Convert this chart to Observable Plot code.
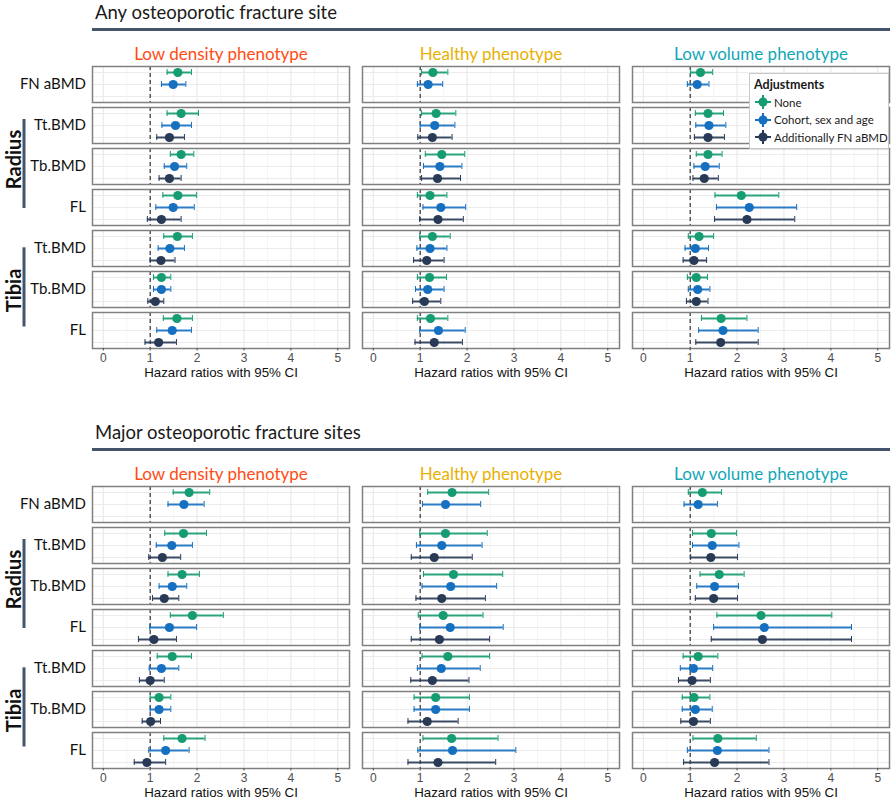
<!DOCTYPE html>
<html>
<head>
<meta charset="utf-8">
<script src="https://cdn.jsdelivr.net/npm/d3@7"></script>
<script src="https://cdn.jsdelivr.net/npm/@observablehq/plot@0.6"></script>
<style>
html, body { margin: 0; padding: 0; background: #fff; overflow: hidden; }
#wrap { position: relative; width: 895px; height: 801px; font-family: Lato, "Open Sans", sans-serif; }
.section { position: absolute; left: 0; width: 895px; height: 420px; }
.stitle { position: absolute; left: 95px; top: 0px; font-size: 18.5px; line-height: 24px; color: #1a1a1a; white-space: nowrap; }
.rule { position: absolute; left: 92px; width: 798px; top: 28px; height: 3px; background: #44546a; }
.section svg { position: absolute; left: 0; top: 35px; overflow: visible; }
.legend { position: absolute; left: 749px; top: 73px; width: 140px; height: 76px; background: #fff; border: 1px solid #c8c8c8; box-sizing: border-box; font-size: 11.5px; color: #1a1a1a; }
.legend .lt { position: absolute; left: 4px; top: 3px; font-weight: bold; font-size: 12.5px; }
.legend .li { position: absolute; left: 4px; height: 16px; white-space: nowrap; display: flex; align-items: center; }
.legend .li svg { position: static; margin-right: 2px; }
</style>
</head>
<body>
<div id="wrap"></div>
<script>
// ---------- categories and labels ----------
const sectionTitles = ["Any osteoporotic fracture site", "Major osteoporotic fracture sites"];
const phenotypes = ["Low density phenotype", "Healthy phenotype", "Low volume phenotype"];
const phenotypeColors = ["#ff4b14", "#e8b000", "#12a6b6"];
const rowKeys = ["FN", "R_Tt", "R_Tb", "R_FL", "T_Tt", "T_Tb", "T_FL"];
const rowLabels = ["FN aBMD", "Tt.BMD", "Tb.BMD", "FL", "Tt.BMD", "Tb.BMD", "FL"];
const groupLabels = ["Radius", "Tibia"];
const adjustments = ["None", "Cohort, sex and age", "Additionally FN aBMD"];
const adjustmentColors = ["#169c72", "#1670c0", "#293a56"];
const legendTitle = "Adjustments";
const xTicks = [0, 1, 2, 3, 4, 5];
const xMinorTicks = [0.5, 1.5, 2.5, 3.5, 4.5];
const xDomain = [-0.23, 5.25];
const axisTitle = "Hazard ratios with 95% CI";

// ---------- values: order = rows (FN, Radius Tt/Tb/FL, Tibia Tt/Tb/FL) x adjustments ----------
// Any osteoporotic fracture site
const anyLowDensityHR = [1.59,1.49,null, 1.66,1.54,1.41, 1.66,1.52,1.41, 1.59,1.49,1.24, 1.58,1.42,1.23, 1.24,1.24,1.11, 1.57,1.47,1.18];
const anyLowDensityLo = [1.36,1.24,null, 1.36,1.25,1.14, 1.43,1.30,1.19, 1.27,1.12,0.94, 1.29,1.17,1.00, 1.07,1.07,0.95, 1.28,1.14,0.89];
const anyLowDensityHi = [1.88,1.76,null, 2.03,1.88,1.73, 1.93,1.78,1.66, 1.99,1.94,1.66, 1.90,1.73,1.53, 1.44,1.44,1.29, 1.90,1.88,1.56];
const anyHealthyHR = [1.27,1.17,null, 1.34,1.31,1.26, 1.46,1.42,1.37, 1.21,1.44,1.38, 1.26,1.21,1.14, 1.20,1.16,1.09, 1.22,1.39,1.30];
const anyHealthyLo = [1.03,0.94,null, 1.03,1.00,0.95, 1.11,1.07,1.03, 0.94,1.06,0.99, 0.99,0.93,0.86, 0.94,0.90,0.84, 0.94,0.99,0.89];
const anyHealthyHi = [1.59,1.48,null, 1.76,1.74,1.68, 1.95,1.89,1.86, 1.57,1.97,1.92, 1.64,1.57,1.51, 1.56,1.51,1.44, 1.59,1.96,1.90];
const anyLowVolumeHR = [1.22,1.15,null, 1.38,1.40,1.38, 1.38,1.32,1.30, 2.09,2.26,2.21, 1.19,1.11,1.08, 1.13,1.16,1.13, 1.66,1.70,1.65];
const anyLowVolumeLo = [1.01,0.94,null, 1.11,1.12,1.09, 1.13,1.08,1.06, 1.53,1.56,1.52, 0.96,0.89,0.85, 0.94,0.96,0.92, 1.24,1.18,1.12];
const anyLowVolumeHi = [1.48,1.40,null, 1.71,1.76,1.73, 1.68,1.62,1.60, 2.89,3.27,3.23, 1.50,1.39,1.35, 1.37,1.42,1.38, 2.21,2.45,2.45];
// Major osteoporotic fracture sites
const majorLowDensityHR = [1.83,1.72,null, 1.71,1.46,1.26, 1.68,1.47,1.30, 1.90,1.41,1.08, 1.47,1.24,1.00, 1.19,1.19,1.01, 1.68,1.33,0.93];
const majorLowDensityLo = [1.49,1.38,null, 1.31,1.13,0.97, 1.38,1.19,1.05, 1.43,0.99,0.75, 1.15,0.98,0.77, 1.00,1.00,0.83, 1.29,0.97,0.66];
const majorLowDensityHi = [2.27,2.15,null, 2.20,1.90,1.65, 2.05,1.78,1.61, 2.56,1.99,1.56, 1.88,1.61,1.30, 1.44,1.44,1.22, 2.17,1.83,1.33];
const majorHealthyHR = [1.68,1.54,null, 1.54,1.46,1.30, 1.71,1.65,1.46, 1.49,1.64,1.41, 1.59,1.45,1.26, 1.33,1.33,1.15, 1.67,1.69,1.38];
const majorHealthyLo = [1.16,1.05,null, 0.99,0.92,0.81, 1.07,1.04,0.91, 0.96,0.99,0.81, 1.04,0.94,0.80, 0.87,0.87,0.74, 1.06,0.95,0.74];
const majorHealthyHi = [2.46,2.29,null, 2.43,2.32,2.11, 2.76,2.63,2.39, 2.34,2.77,2.48, 2.48,2.28,2.04, 2.05,2.05,1.81, 2.66,3.04,2.61];
const majorLowVolumeHR = [1.26,1.17,null, 1.45,1.47,1.44, 1.62,1.52,1.50, 2.51,2.58,2.54, 1.17,1.07,1.04, 1.08,1.11,1.07, 1.59,1.58,1.52];
const majorLowVolumeLo = [0.96,0.87,null, 1.05,1.05,1.01, 1.21,1.14,1.11, 1.57,1.50,1.45, 0.85,0.79,0.75, 0.83,0.83,0.80, 1.06,0.94,0.86];
const majorLowVolumeHi = [1.67,1.58,null, 1.99,2.04,2.01, 2.15,2.03,2.01, 4.02,4.44,4.44, 1.59,1.48,1.43, 1.42,1.47,1.43, 2.41,2.68,2.68];

function buildRows(sets) {
  const out = [];
  sets.forEach(([hr, lo, hi], p) => {
    hr.forEach((v, i) => {
      if (v == null) return;
      out.push({pheno: phenotypes[p], row: rowKeys[Math.floor(i / 3)], adj: adjustments[i % 3], hr: v, lo: lo[i], hi: hi[i]});
    });
  });
  return out;
}

const sections = [
  buildRows([[anyLowDensityHR, anyLowDensityLo, anyLowDensityHi], [anyHealthyHR, anyHealthyLo, anyHealthyHi], [anyLowVolumeHR, anyLowVolumeLo, anyLowVolumeHi]]),
  buildRows([[majorLowDensityHR, majorLowDensityLo, majorLowDensityHi], [majorHealthyHR, majorHealthyLo, majorHealthyHi], [majorLowVolumeHR, majorLowVolumeLo, majorLowVolumeHi]])
];

const colorOf = d => adjustmentColors[adjustments.indexOf(d.adj)];

function chart(data) {
  return Plot.plot({
    width: 895,
    height: 385,
    marginLeft: 91.5,
    marginRight: 5.5,
    marginTop: 29,
    marginBottom: 70,
    style: {fontFamily: "Lato, 'Open Sans', sans-serif", background: "transparent", overflow: "visible"},
    x: {domain: xDomain, axis: null},
    y: {type: "point", domain: adjustments, padding: 0.5, axis: null},
    fx: {domain: phenotypes, paddingInner: 0.05, paddingOuter: 0, axis: null},
    fy: {domain: rowKeys, paddingInner: 0.114, paddingOuter: 0, axis: null},
    marks: [
      Plot.frame({fill: "white"}),
      Plot.ruleX(xMinorTicks, {stroke: "#f1f1f1", strokeWidth: 0.8}),
      Plot.ruleX(xTicks, {stroke: "#e6e6e6", strokeWidth: 1}),
      Plot.ruleY(adjustments, {stroke: "#ececec", strokeWidth: 1}),
      Plot.ruleX([1], {stroke: "#222", strokeDasharray: "4,3", strokeWidth: 1.1}),
      Plot.ruleY(data, {fx: "pheno", fy: "row", y: "adj", x1: "lo", x2: "hi", stroke: colorOf, strokeWidth: 2, strokeOpacity: 0.9}),
      Plot.ruleX(data, {fx: "pheno", fy: "row", y1: "adj", y2: "adj", x: "lo", stroke: colorOf, strokeWidth: 1, insetTop: -3, insetBottom: -3}),
      Plot.ruleX(data, {fx: "pheno", fy: "row", y1: "adj", y2: "adj", x: "hi", stroke: colorOf, strokeWidth: 1, insetTop: -3, insetBottom: -3}),
      Plot.dot(data, {fx: "pheno", fy: "row", y: "adj", x: "hr", fill: colorOf, r: 4.6}),
      Plot.frame({stroke: "#808080", strokeWidth: 1.5}),
      Plot.axisX(xTicks, {tickSize: 2.5, tickPadding: 2, fontSize: 12, color: "#4d4d4d", label: null, fontFamily: "'Liberation Sans', Arial, sans-serif"}),
      Plot.axisFy({anchor: "left", tickSize: 0, tickPadding: 6.5, fontSize: 15, color: "#111", label: null,
        tickFormat: k => rowLabels[rowKeys.indexOf(k)]}),
      Plot.text(phenotypes, {fx: d => d, fy: () => rowKeys[0], text: d => d,
        fill: (d, i) => phenotypeColors[i], frameAnchor: "top", lineAnchor: "middle", dy: -12, fontSize: 17}),
      Plot.text(phenotypes, {fx: d => d, fy: () => rowKeys[rowKeys.length - 1], text: () => axisTitle,
        frameAnchor: "bottom", lineAnchor: "middle", dy: 24, fontSize: 13.3, fill: "#111",
        fontFamily: "'Liberation Sans', Arial, sans-serif"}),
      // group labels
      Plot.text([groupLabels[0]], {fx: () => phenotypes[0], fy: () => "R_Tb", text: d => d, frameAnchor: "left",
        textAnchor: "middle", lineAnchor: "middle", rotate: -90, dx: -78, dy: -7, fontSize: 20, fontWeight: "bold", fill: "#111"}),
      Plot.text([groupLabels[1]], {fx: () => phenotypes[0], fy: () => "T_Tb", text: d => d, frameAnchor: "left",
        textAnchor: "middle", lineAnchor: "middle", rotate: -90, dx: -78, dy: 1, fontSize: 20, fontWeight: "bold", fill: "#111"}),
      Plot.ruleX([xDomain[0]], {fx: () => phenotypes[0], fy: () => "R_Tb", dx: -68.5, insetTop: -29, insetBottom: -24, stroke: "#44546a", strokeWidth: 3}),
      Plot.ruleX([xDomain[0]], {fx: () => phenotypes[0], fy: () => "T_Tb", dx: -68.5, insetTop: -23.7, insetBottom: -19.5, stroke: "#44546a", strokeWidth: 3})
    ]
  });
}

function legendIcon(color) {
  return `<svg width="18" height="16" viewBox="0 0 18 16"><line x1="1" y1="8" x2="17" y2="8" stroke="${color}" stroke-width="2"/><line x1="9" y1="1" x2="9" y2="15" stroke="${color}" stroke-width="2"/><circle cx="9" cy="8" r="4.6" fill="${color}"/></svg>`;
}

const wrap = document.getElementById("wrap");
sections.forEach((data, s) => {
  const sec = document.createElement("div");
  sec.className = "section";
  sec.style.top = (s * 420) + "px";
  const t = document.createElement("div");
  t.className = "stitle";
  t.textContent = sectionTitles[s];
  sec.appendChild(t);
  const r = document.createElement("div");
  r.className = "rule";
  sec.appendChild(r);
  sec.appendChild(chart(data));
  if (s === 0) {
    const lg = document.createElement("div");
    lg.className = "legend";
    let html = `<div class="lt">${legendTitle}</div>`;
    adjustments.forEach((a, i) => {
      html += `<div class="li" style="top:${20 + i * 17.5}px">${legendIcon(adjustmentColors[i])}<span>${a}</span></div>`;
    });
    lg.innerHTML = html;
    sec.appendChild(lg);
  }
  wrap.appendChild(sec);
});
</script>
</body>
</html>
